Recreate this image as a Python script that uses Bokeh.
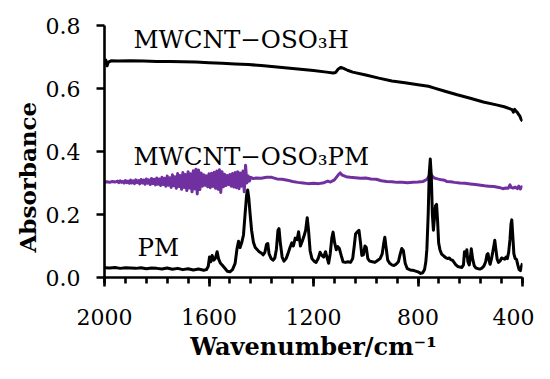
from bokeh.plotting import figure
from bokeh.models import Range1d, FixedTicker, PrintfTickFormatter, Title
from bokeh.core.properties import value
from bokeh.embed import file_html
from bokeh.resources import INLINE

# ---------------- data ----------------
x_ticks = [2000, 1600, 1200, 800, 400]
y_ticks = [0.0, 0.2, 0.4, 0.6, 0.8]

# MWCNT-OSO3H
wn_h = [2000, 1995, 1990, 1985, 1975, 1950, 1900, 1850, 1800, 1750, 1700, 1650, 1600, 1550,
        1500, 1450, 1400, 1350, 1300, 1250, 1200, 1150, 1125, 1115, 1105, 1095, 1085, 1070,
        1050, 1000, 950, 900, 850, 800, 760, 740, 700, 650, 600, 550, 500, 470, 450, 440,
        435, 430, 425, 420, 415, 410, 405, 400]
abs_h = [0.686, 0.690, 0.672, 0.684, 0.688, 0.687, 0.688, 0.687, 0.686, 0.686, 0.685, 0.684,
         0.682, 0.680, 0.678, 0.676, 0.673, 0.669, 0.665, 0.661, 0.657, 0.652, 0.649, 0.651,
         0.662, 0.667, 0.664, 0.658, 0.652, 0.643, 0.633, 0.624, 0.618, 0.612, 0.607, 0.602,
         0.592, 0.580, 0.569, 0.557, 0.548, 0.542, 0.536, 0.533, 0.525, 0.534, 0.528, 0.524,
         0.518, 0.512, 0.502, 0.496]

# MWCNT-OSO3PM
wn_pmc = [2000, 1990, 1980, 1970, 1960,
          1950, 1945, 1940, 1935, 1930, 1925, 1920, 1915, 1910, 1905, 1900, 1895, 1890, 1885,
          1880, 1875, 1870, 1865, 1860, 1855, 1850, 1845, 1840, 1835, 1830, 1825, 1820, 1815,
          1810, 1805, 1800, 1795, 1790, 1785, 1780, 1775, 1770, 1765, 1760, 1755, 1750, 1745,
          1740, 1735, 1730, 1725, 1720, 1715, 1710, 1705, 1700, 1695, 1690, 1685, 1680, 1675,
          1670, 1665, 1660, 1655, 1650, 1645, 1640, 1635, 1630, 1625, 1620, 1615, 1610, 1605,
          1600, 1595, 1590, 1585, 1580, 1575, 1570, 1565, 1560, 1555, 1550, 1545, 1540, 1535,
          1530, 1525, 1520, 1515, 1510, 1505, 1500, 1495, 1490, 1485, 1480, 1475, 1470, 1465,
          1460, 1455, 1450, 1445, 1440,
          1430, 1420, 1400, 1380, 1360, 1340, 1320, 1300, 1280, 1260, 1240, 1220, 1200, 1180,
          1160, 1145, 1135, 1120, 1105, 1098, 1090, 1075, 1060, 1040, 1020, 1000, 980, 960,
          940, 920, 900, 880, 860, 840, 820, 800, 780, 765, 758, 752, 746, 738, 725, 710, 698,
          690, 675, 660, 640, 620, 600, 580, 560, 545, 530, 510, 490, 475, 465, 455, 448, 444,
          436, 428, 420, 414, 408, 403, 400]
abs_pmc = [0.303, 0.304, 0.302, 0.305, 0.303,
           0.306, 0.301, 0.307, 0.302, 0.305, 0.300, 0.308, 0.301, 0.306, 0.299, 0.309, 0.300,
           0.307, 0.298, 0.310, 0.301, 0.308, 0.297, 0.311, 0.300, 0.309, 0.296, 0.313, 0.299,
           0.310, 0.295, 0.314, 0.298, 0.312, 0.294, 0.316, 0.296, 0.313, 0.292, 0.318, 0.295,
           0.315, 0.290, 0.322, 0.293, 0.317, 0.286, 0.326, 0.291, 0.320, 0.283, 0.330, 0.289,
           0.324, 0.280, 0.333, 0.286, 0.327, 0.276, 0.336, 0.284, 0.329, 0.272, 0.339, 0.281,
           0.344, 0.265, 0.341, 0.279, 0.332, 0.290, 0.326, 0.293, 0.323, 0.288, 0.329, 0.285,
           0.331, 0.289, 0.334, 0.283, 0.338, 0.280, 0.342, 0.270, 0.336, 0.288, 0.328, 0.292,
           0.324, 0.295, 0.327, 0.290, 0.330, 0.287, 0.333, 0.285, 0.336, 0.282, 0.332, 0.290,
           0.338, 0.272, 0.356, 0.300, 0.322, 0.306, 0.318,
           0.314, 0.316, 0.315, 0.318, 0.318, 0.313, 0.312, 0.309, 0.305, 0.302, 0.300, 0.298,
           0.299, 0.298, 0.301, 0.306, 0.303, 0.310, 0.326, 0.332, 0.325, 0.320, 0.318, 0.317,
           0.315, 0.316, 0.313, 0.312, 0.307, 0.305, 0.304, 0.302, 0.302, 0.301, 0.302, 0.303,
           0.305, 0.312, 0.322, 0.330, 0.322, 0.316, 0.313, 0.310, 0.309, 0.305, 0.304, 0.302,
           0.300, 0.299, 0.297, 0.295, 0.293, 0.291, 0.290, 0.289, 0.286, 0.282, 0.284, 0.283,
           0.294, 0.286, 0.284, 0.287, 0.282, 0.290, 0.281, 0.288, 0.286]

# PM
wn_pm = [2000, 1980, 1960, 1940, 1920, 1900, 1880, 1860, 1840, 1820, 1800, 1780, 1760, 1740,
         1720, 1700, 1680, 1660, 1640, 1620, 1610, 1603, 1598, 1593, 1588, 1582, 1575, 1569,
         1563, 1556, 1548, 1540, 1530, 1520, 1510, 1500, 1493, 1487, 1481, 1475, 1468, 1462,
         1456, 1452, 1448, 1443, 1437, 1430, 1423, 1415, 1408, 1400, 1393, 1386, 1380, 1375,
         1370, 1362, 1355, 1348, 1342, 1336, 1332, 1327, 1320, 1313, 1305, 1298, 1290, 1283,
         1277, 1270, 1263, 1257, 1250, 1243, 1237, 1230, 1224, 1219, 1213, 1206, 1198, 1190,
         1182, 1175, 1168, 1161, 1154, 1147, 1142, 1136, 1130, 1125, 1119, 1113, 1107, 1101,
         1094, 1087, 1078, 1068, 1058, 1050, 1044, 1039, 1032, 1026, 1020, 1015, 1009, 1003,
         998, 992, 985, 975, 965, 955, 945, 937, 931, 927, 922, 916, 908, 900, 892, 884, 875,
         868, 862, 856, 849, 841, 830, 815, 800, 790, 782, 775, 770, 766, 761, 757, 753, 749,
         745, 741, 737, 733, 729, 725, 721, 716, 710, 704, 698, 692, 686, 680, 674, 668, 662,
         655, 648, 640, 632, 626, 622, 617, 613, 609, 604, 600, 596, 591, 585, 578, 570, 562,
         555, 548, 541, 536, 532, 528, 524, 519, 514, 510, 506, 502, 497, 492, 486, 480, 474,
         468, 463, 458, 453, 448, 444, 441, 437, 433, 428, 423, 418, 413, 408, 404, 400]
abs_pm = [0.031, 0.030, 0.032, 0.029, 0.031, 0.030, 0.029, 0.031, 0.028, 0.030, 0.029, 0.027,
          0.030, 0.026, 0.029, 0.025, 0.028, 0.024, 0.027, 0.023, 0.025, 0.035, 0.065, 0.050,
          0.070, 0.055, 0.062, 0.082, 0.058, 0.045, 0.038, 0.030, 0.020, 0.018, 0.025, 0.045,
          0.090, 0.115, 0.095, 0.110, 0.135, 0.200, 0.262, 0.278, 0.255, 0.205, 0.150, 0.112,
          0.095, 0.088, 0.082, 0.078, 0.072, 0.080, 0.105, 0.108, 0.075, 0.060, 0.055, 0.062,
          0.090, 0.150, 0.155, 0.110, 0.065, 0.052, 0.060, 0.075, 0.095, 0.110, 0.100, 0.125,
          0.120, 0.145, 0.100, 0.115, 0.130, 0.150, 0.190, 0.150, 0.085, 0.060, 0.052, 0.048,
          0.060, 0.080, 0.070, 0.065, 0.082, 0.060, 0.045, 0.075, 0.125, 0.144, 0.110, 0.088,
          0.098, 0.092, 0.070, 0.050, 0.048, 0.050, 0.048, 0.060, 0.100, 0.138, 0.145, 0.150,
          0.110, 0.070, 0.072, 0.100, 0.095, 0.060, 0.052, 0.050, 0.048, 0.054, 0.060, 0.075,
          0.110, 0.128, 0.095, 0.055, 0.045, 0.040, 0.038, 0.042, 0.050, 0.075, 0.092, 0.085,
          0.045, 0.028, 0.024, 0.022, 0.018, 0.013, 0.015, 0.025, 0.050, 0.090, 0.200, 0.330,
          0.376, 0.320, 0.200, 0.150, 0.190, 0.228, 0.232, 0.180, 0.110, 0.088, 0.075, 0.070,
          0.066, 0.062, 0.060, 0.062, 0.056, 0.055, 0.048, 0.040, 0.035, 0.033, 0.032, 0.040,
          0.082, 0.068, 0.088, 0.050, 0.040, 0.060, 0.091, 0.060, 0.038, 0.030, 0.028, 0.027,
          0.030, 0.036, 0.050, 0.072, 0.076, 0.055, 0.042, 0.058, 0.080, 0.098, 0.118, 0.090,
          0.058, 0.048, 0.052, 0.062, 0.060, 0.058, 0.065, 0.060, 0.080, 0.120, 0.170, 0.183,
          0.130, 0.075, 0.060, 0.058, 0.040, 0.025, 0.022, 0.035, 0.045]

series_names = ["MWCNT\u2212OSO\u2083H", "MWCNT\u2212OSO\u2083PM", "PM"]
series_colors = ["#000000", "#7030A0", "#000000"]

# ---------------- figure ----------------
FONT = "DejaVu Serif"
p = figure(width=534, height=371, output_backend="svg", toolbar_location=None,
           x_range=Range1d(2000, 400), y_range=Range1d(0, 0.8),
           min_border_left=104, min_border_right=12, min_border_top=25, min_border_bottom=94)
p.outline_line_color = None
p.grid.visible = False
p.background_fill_color = "white"
p.border_fill_color = "white"

LW = 3
p.line(wn_h, abs_h, line_color=series_colors[0], line_width=LW, line_join="round")
p.line(wn_pmc, abs_pmc, line_color=series_colors[1], line_width=LW, line_join="round")
p.line(wn_pm, abs_pm, line_color=series_colors[2], line_width=LW, line_join="round")

# series labels
label_x = [1889, 1889, 1874]
label_y = [0.757, 0.385, 0.096]
p.text(x=label_x, y=label_y, text=series_names, text_font=value(FONT),
       text_font_size="24.5px", text_color="#000000", text_align="left",
       text_baseline="alphabetic")

# axes
minor = [v for v in range(400, 2001, 80)]
p.xaxis.ticker = FixedTicker(ticks=x_ticks, minor_ticks=minor)
p.yaxis.ticker = FixedTicker(ticks=y_ticks, minor_ticks=[])
p.yaxis.formatter = PrintfTickFormatter(format="%.1f")

for ax in (p.xaxis[0], p.yaxis[0]):
    ax.axis_line_color = "black"
    ax.axis_line_width = 2.6
    ax.major_tick_line_color = "black"
    ax.major_tick_line_width = 2.6
    ax.minor_tick_line_color = "black"
    ax.minor_tick_line_width = 2.6
    ax.major_tick_in = 0
    ax.minor_tick_in = 0
    ax.major_label_text_font = FONT
    ax.major_label_text_font_size = "22px"
    ax.major_label_text_color = "black"
    ax.axis_label_text_font = FONT
    ax.axis_label_text_font_style = "bold"
    ax.axis_label_text_color = "black"

p.xaxis.major_tick_out = 9
p.xaxis.minor_tick_out = 6
p.xaxis.major_label_standoff = 22
p.xaxis.axis_label = "Wavenumber/cm\u207b\u00b9"
p.xaxis.axis_label_text_font_size = "24px"
p.xaxis.axis_label_standoff = 4

p.yaxis.major_tick_out = 8
p.yaxis.minor_tick_out = 0
p.yaxis.major_label_standoff = 16
p.yaxis.axis_label = None

ytitle = Title(text="Absorbance", align="left", offset=25, standoff=4,
               text_font=FONT, text_font_style="bold", text_font_size="23px",
               text_color="black")
p.add_layout(ytitle, "left")

open("out.html", "w").write(file_html(p, INLINE))
